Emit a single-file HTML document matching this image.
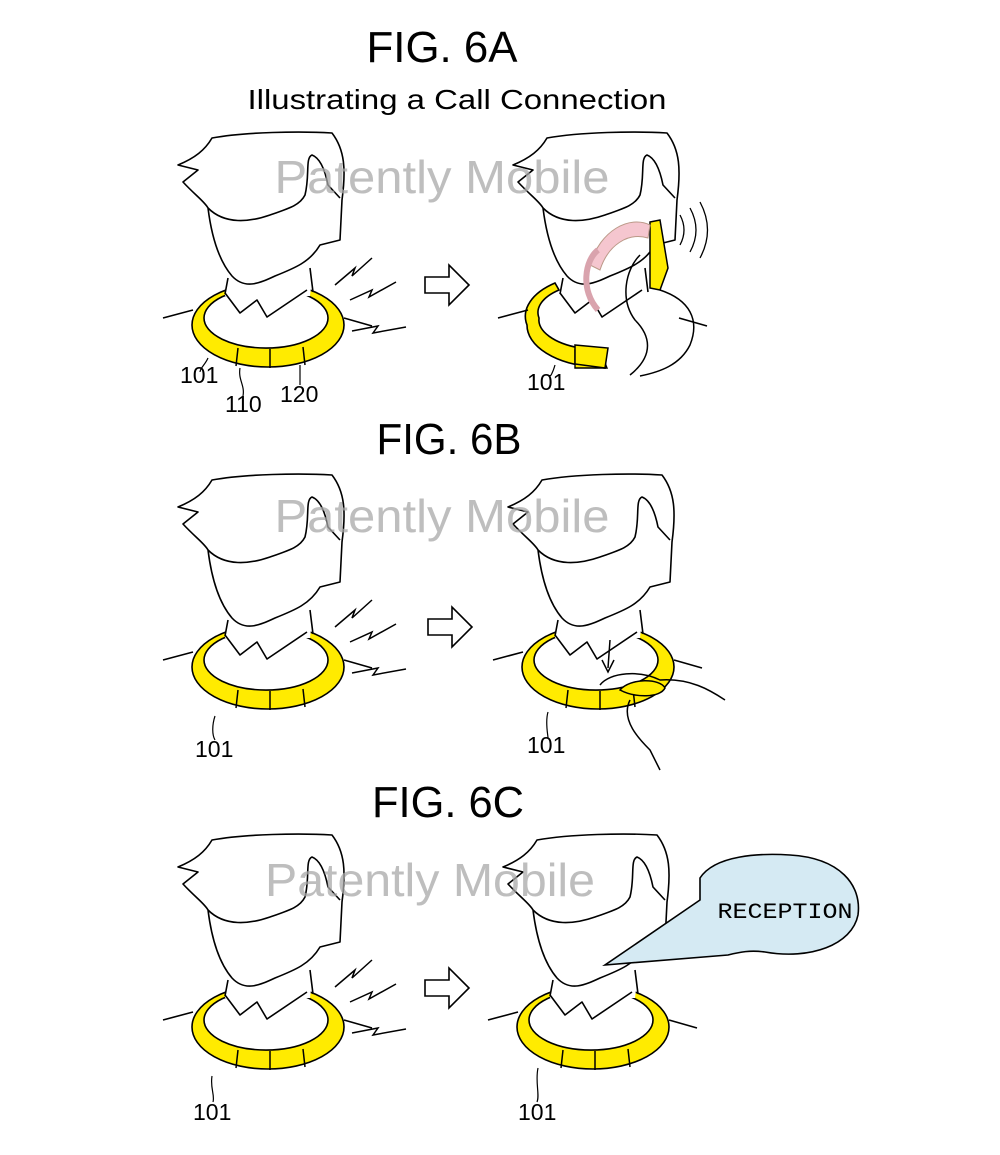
<!DOCTYPE html>
<html><head><style>
html,body{margin:0;padding:0;background:#fff;}
svg{display:block;}
</style></head><body>
<svg width="1000" height="1155" viewBox="0 0 1000 1155" xmlns="http://www.w3.org/2000/svg" font-family="Liberation Sans, sans-serif">
<defs>
<g id="ring">
  <path d="M192,325 a76,42 0 1,0 152,0 a76,42 0 1,0 -152,0 Z M204,318 a62,30 0 1,1 124,0 a62,30 0 1,1 -124,0 Z" fill="#ffeb00" fill-rule="evenodd" stroke="#000" stroke-width="1.6"/>
  <path d="M238,348 L236,366 M270,349 L270,368 M303,347 L305,365" stroke="#000" stroke-width="1.5" fill="none"/>
</g>
<g id="head" fill="none" stroke="#000" stroke-width="1.6" stroke-linejoin="round">
  <path d="M163,318 L193,310 M344,318 L372,326"/>
  <path d="M227,280 L225,296 L310,296 L313,270 Z" fill="#fff" stroke="none"/>
  <path d="M208,208 C212,240 220,262 232,276 C245,290 260,283 275,276 C295,268 310,262 320,245 L340,240 L342,200 C346,170 345,150 332,133 C300,131 245,132 212,138 C205,150 195,158 178,165 L198,170 L183,182 C195,195 205,202 208,208 Z" fill="#fff"/>
  <path d="M208,208 C225,225 250,222 270,215 C290,208 300,205 305,195 C310,175 305,158 312,155 C320,158 325,170 328,185 L340,198"/>
  <path d="M228,278 L225,294 M310,268 L313,292"/>
  <path d="M225,293 L240,313 L257,300 L267,317 L307,290" fill="#fff"/>
</g>
<g id="bolts" fill="none" stroke="#000" stroke-width="1.5">
  <path d="M335,285 L355,268 L352,276 L372,258"/>
  <path d="M350,300 L372,290 L369,297 L396,282"/>
  <path d="M352,331 L378,326 L373,333 L406,327"/>
</g>
<path id="arrow" d="M0,12 L24,12 L24,0 L44,20 L24,40 L24,28 L0,28 Z" fill="#fff" stroke="#000" stroke-width="1.6"/>
</defs>

<text x="442" y="62" font-size="44" text-anchor="middle" textLength="151" lengthAdjust="spacingAndGlyphs">FIG. 6A</text>
<text x="457" y="109" font-size="28" text-anchor="middle" textLength="419" lengthAdjust="spacingAndGlyphs">Illustrating a Call Connection</text>
<text x="449" y="454" font-size="44" text-anchor="middle" textLength="145" lengthAdjust="spacingAndGlyphs">FIG. 6B</text>
<text x="448" y="817" font-size="44" text-anchor="middle" textLength="152" lengthAdjust="spacingAndGlyphs">FIG. 6C</text>

<!-- 6A -->
<use href="#ring"/>
<use href="#head"/>
<use href="#bolts"/>
<use href="#arrow" x="425" y="265"/>
<g transform="translate(335,0)">
  <path d="M192,325 a76,42 0 0,0 68,42 L270,368 L272,350 L245,348 a62,30 0 0,1 -41,-30 a62,30 0 0,1 20,-28 L220,283 a76,42 0 0,0 -28,42 Z" fill="#ffeb00" stroke="#000" stroke-width="1.6"/>
  <path d="M240,350 L265,350 L272,368 L240,368 Z" fill="#ffeb00" stroke="#000" stroke-width="1.4"/>
  <use href="#head"/>
</g>
<path d="M575,345 L608,348 L605,368 L575,364 Z" fill="#ffeb00" stroke="#000" stroke-width="1.5"/>
<path d="M640,255 C625,270 620,300 635,320 C650,335 655,355 630,375 M660,290 C690,300 700,320 690,345 C680,365 660,372 640,376" fill="none" stroke="#000" stroke-width="1.5"/>
<path d="M650,222 L660,220 L668,268 L660,290 L650,288 Z" fill="#ffeb00" stroke="#000" stroke-width="1.5"/>
<path d="M590,265 C600,230 630,215 650,225 L648,238 C628,232 608,245 600,270 Z" fill="#f5c6cf" stroke="#b98" stroke-width="1"/>
<path d="M598,310 C580,290 585,260 598,250" fill="none" stroke="#d9a3ad" stroke-width="6"/>
<path d="M680,215 q8,15 0,30 M690,208 q12,22 0,44 M700,202 q15,28 0,56" fill="none" stroke="#000" stroke-width="1.3"/>

<!-- 6B -->
<g transform="translate(0,342)"><use href="#ring"/><use href="#head"/><use href="#bolts"/></g>
<use href="#arrow" x="428" y="607"/>
<g transform="translate(330,342)"><use href="#ring"/><use href="#head"/></g>
<path d="M600,685 C610,672 640,670 660,680 C690,678 710,690 725,700 M630,700 C620,720 640,740 650,750 L660,770" fill="none" stroke="#000" stroke-width="1.5"/>
<path d="M620,690 C630,678 660,678 665,688 C660,698 635,698 620,690 Z" fill="#ffeb00" stroke="#000" stroke-width="1.5"/>
<path d="M610,640 L608,668 M602,660 L608,672 L614,660" fill="none" stroke="#000" stroke-width="1.5"/>

<!-- 6C -->
<g transform="translate(0,702)"><use href="#ring"/><use href="#head"/><use href="#bolts"/></g>
<use href="#arrow" x="425" y="968"/>
<g transform="translate(325,702)"><use href="#ring"/><use href="#head"/></g>
<path d="M700,878 C715,855 760,853 790,855 C840,858 862,885 858,915 C852,945 810,960 765,952 C750,950 740,952 728,955 L605,965 L700,900 Z" fill="#d5eaf3" stroke="#000" stroke-width="1.6"/>
<text x="785" y="918" font-size="22" style="font-family:'Liberation Mono',monospace" text-anchor="middle" textLength="135" lengthAdjust="spacingAndGlyphs">RECEPTION</text>

<!-- labels -->
<g font-size="23" fill="#000">
<text x="180" y="383">101</text><text x="225" y="412">110</text><text x="280" y="402">120</text>
<text x="527" y="390">101</text>
<text x="195" y="757">101</text><text x="527" y="753">101</text>
<text x="193" y="1120">101</text><text x="518" y="1120">101</text>
</g>
<path d="M208,358 C205,365 200,368 200,372 M240,368 C238,380 245,385 243,396 M300,365 L300,385 M555,365 C553,372 550,378 550,375 M215,716 C212,725 212,735 215,740 M548,712 C545,722 548,735 548,738 M212,1076 C210,1088 215,1095 213,1102 M538,1068 C535,1082 540,1095 537,1102" fill="none" stroke="#000" stroke-width="1.2"/>

<!-- watermark -->
<g font-size="46" fill="#a8a8a8" fill-opacity="0.75" text-anchor="middle">
<text x="442" y="193" textLength="335" lengthAdjust="spacingAndGlyphs">Patently Mobile</text>
<text x="442" y="532" textLength="335" lengthAdjust="spacingAndGlyphs">Patently Mobile</text>
<text x="430" y="896" textLength="330" lengthAdjust="spacingAndGlyphs">Patently Mobile</text>
</g>
</svg>
</body></html>
